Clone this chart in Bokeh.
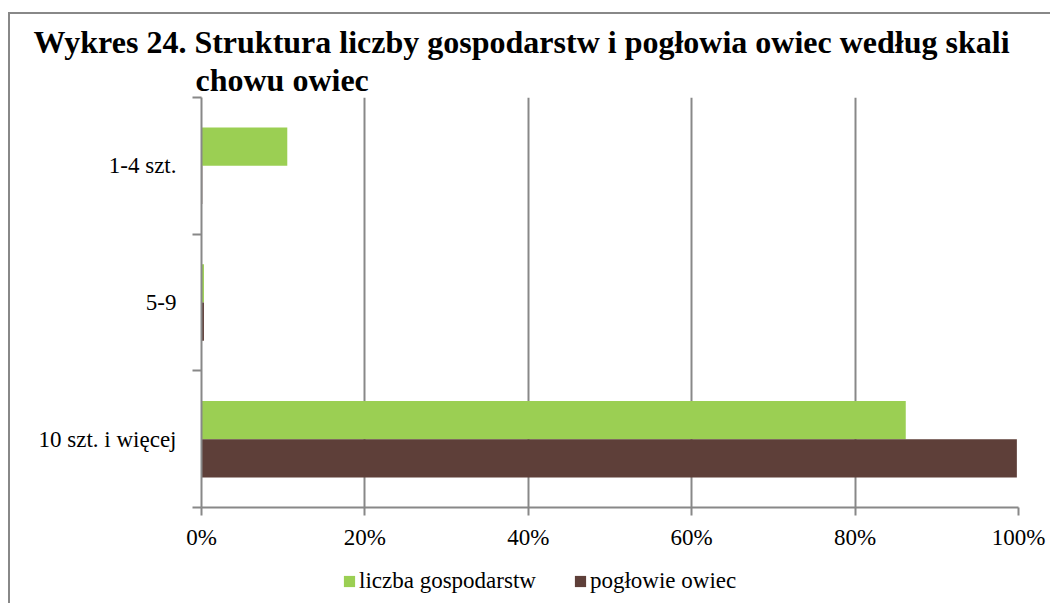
from bokeh.plotting import figure
from bokeh.layouts import column
from bokeh.models import Range1d, FixedTicker, Legend, LegendItem, Title
from bokeh.embed import file_html
from bokeh.resources import INLINE

# ---- data ----
categories = ["1-4 szt.", "5-9", "10 szt. i więcej"]          # top -> bottom
liczba_gospodarstw = [10.5, 0.3, 86.2]                          # %
poglowie_owiec = [0.1, 0.3, 99.8]                               # %
x_ticks = [0, 20, 40, 60, 80, 100]
x_tick_labels = ["0%", "20%", "40%", "60%", "80%", "100%"]
series_names = ["liczba gospodarstw", "pogłowie owiec"]
title_line1 = "Wykres 24. Struktura liczby gospodarstw i pogłowia owiec według skali"
title_line2 = "chowu owiec"

GREEN = "#9BCF53"
BROWN = "#5E3F39"
GRAY = "#888888"
FONT = "Liberation Serif"

n = len(categories)
centers = [n - i - 0.5 for i in range(n)]
bar_h = 0.28
y_green = [c + bar_h / 2 for c in centers]
y_brown = [c - bar_h / 2 for c in centers]

p = figure(frame_width=817, frame_height=410,
           x_range=Range1d(0, 100), y_range=Range1d(0, n),
           output_backend="svg", toolbar_location=None,
           min_border_left=191, min_border_right=32,
           min_border_bottom=52, min_border_top=83)
p.outline_line_color = None
p.background_fill_color = "white"

p.hbar(y=y_green, right=liczba_gospodarstw, left=0, height=bar_h,
       fill_color=GREEN, line_color=None)
p.hbar(y=y_brown, right=poglowie_owiec, left=0, height=bar_h,
       fill_color=BROWN, line_color=None)

# grid
p.ygrid.visible = False
p.xgrid.ticker = FixedTicker(ticks=x_ticks)
p.xgrid.grid_line_color = GRAY
p.xgrid.grid_line_width = 2

# x axis
xa = p.xaxis[0]
xa.ticker = FixedTicker(ticks=x_ticks)
xa.major_label_overrides = {t: l for t, l in zip(x_ticks, x_tick_labels)}
xa.axis_line_color = GRAY
xa.axis_line_width = 2
xa.major_tick_line_color = GRAY
xa.major_tick_line_width = 2
xa.major_tick_out = 8
xa.major_tick_in = 0
xa.minor_tick_line_color = None
xa.major_label_text_font = FONT
xa.major_label_text_font_size = "23px"
xa.major_label_text_color = "black"
xa.major_label_standoff = 9

# y axis: labels at centers, ticks at category boundaries
ya = p.yaxis[0]
ya.ticker = FixedTicker(ticks=centers, minor_ticks=list(range(n + 1)))
ya.major_label_overrides = {c: cat for c, cat in zip(centers, categories)}
ya.axis_line_color = GRAY
ya.axis_line_width = 2
ya.major_tick_line_color = None
ya.major_tick_out = 0
ya.major_tick_in = 0
ya.minor_tick_line_color = GRAY
ya.minor_tick_line_width = 2
ya.minor_tick_out = 9
ya.minor_tick_in = 0
ya.major_label_text_font = FONT
ya.major_label_text_font_size = "23px"
ya.major_label_text_color = "black"
ya.major_label_standoff = 16

# titles (line 2 added first: closest to the frame)
p.add_layout(Title(text=title_line2, align="left", offset=-6,
                   text_font=FONT, text_font_size="32px", text_font_style="bold",
                   text_color="black", standoff=0), "above")
p.add_layout(Title(text=title_line1, align="left", offset=-168,
                   text_font=FONT, text_font_size="32px", text_font_style="bold",
                   text_color="black", standoff=0), "above")

# ---- legend strip (separate figure below the chart; same series, kept out of view) ----
lg = figure(width=1040, height=44, x_range=Range1d(0, 100), y_range=Range1d(100, 101),
            output_backend="svg", toolbar_location=None,
            x_axis_type=None, y_axis_type=None,
            min_border_left=0, min_border_right=0, min_border_top=0, min_border_bottom=0)
lg.outline_line_color = None
lg.xgrid.visible = False
lg.ygrid.visible = False
g1 = lg.hbar(y=y_green, right=liczba_gospodarstw, left=0, height=bar_h,
             fill_color=GREEN, line_color=None)
g2 = lg.hbar(y=y_brown, right=poglowie_owiec, left=0, height=bar_h,
             fill_color=BROWN, line_color=None)
legend = Legend(items=[LegendItem(label=series_names[0], renderers=[g1]),
                       LegendItem(label=series_names[1], renderers=[g2])],
                orientation="horizontal", location=(141, 9),
                glyph_width=14, glyph_height=14, label_standoff=3, spacing=37,
                label_text_font=FONT, label_text_font_size="23px",
                label_text_color="black",
                border_line_color=None, background_fill_alpha=0,
                padding=0, margin=0)
lg.add_layout(legend, "center")

layout = column(p, lg, spacing=0,
                styles={"margin-left": "8px", "margin-top": "12px",
                        "border-top": f"2px solid {GRAY}",
                        "border-left": f"2px solid {GRAY}"})

open("out.html", "w").write(file_html(layout, INLINE))
